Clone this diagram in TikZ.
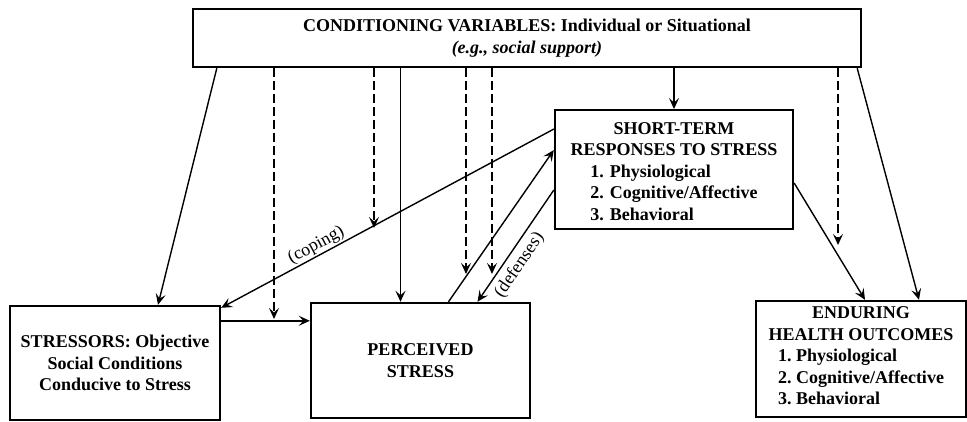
\documentclass[tikz,border=0pt]{standalone}
\usepackage{fontspec}
\setmainfont{Liberation Serif}
\usepackage{tikz}
\usetikzlibrary{arrows.meta}

\begin{document}
\begin{tikzpicture}[x=1pt, y=1pt,
    box/.style={draw, line width=2.4pt, inner sep=2pt, align=center,
        font=\fontsize{18}{21.5}\selectfont\bfseries},
    arr/.style={line width=1.4pt, -{Stealth[length=11pt, width=10pt, inset=4.5pt]}},
    dasharr/.style={arr, line width=1.6pt, dash pattern=on 9pt off 4pt},
    lbl/.style={font=\fontsize{18}{21.5}\selectfont, inner sep=1pt, sloped}]
    \useasboundingbox (0,0) rectangle (967,422);

    % Draw the boxes
    \node[box, minimum width=668pt, minimum height=58pt] (Conditioning) at (527,384)
        {CONDITIONING VARIABLES: Individual or Situational\\ \textit{(e.g., social support)}};
    \node[box, minimum width=238pt, minimum height=117pt, text height=65pt] (ShortTerm) at (674,252.5)
        {SHORT-TERM\\ RESPONSES TO STRESS\\
         \begin{tabular}[t]{@{}l@{}}1. Physiological\\ 2. Cognitive/Affective\\ 3. Behavioral\end{tabular}};
    \node[box, minimum width=210pt, minimum height=114pt] (Stressors) at (115,59)
        {STRESSORS: Objective\\ Social Conditions\\ Conducive to Stress};
    \node[box, minimum width=219pt, minimum height=115pt] (Perceived) at (420.5,61.5)
        {PERCEIVED\\ STRESS};
    \node[box, minimum width=210pt, minimum height=116pt] (Enduring) at (861,63)
        {ENDURING\\ HEALTH OUTCOMES\\
         \begin{tabular}[t]{@{}l@{}}1.\ Physiological\\ 2.\ Cognitive/Affective\\ 3.\ Behavioral\end{tabular}};

    % Define coordinates for the ends of the dashed arrows
    \coordinate (Link) at ([yshift=-16pt]Stressors.north east);
    \coordinate (M1) at (274,103);
    \coordinate (M2) at (374,194);
    \coordinate (M3) at (466,148);
    \coordinate (M4) at (492,148);
    \coordinate (M5) at (838,177);
    \coordinate (P1) at ([xshift=-20pt]Perceived.north);

    % Conditioning variables acting on the boxes
    \draw[arr] ([xshift=25pt]Conditioning.south west) -- ([xshift=43pt]Stressors.north);
    \draw[arr] (Conditioning.south -| P1) -- (P1);
    \draw[arr] (Conditioning.south -| ShortTerm.north) -- (ShortTerm.north);
    \draw[arr] ([xshift=-5pt]Conditioning.south east) -- ([xshift=58pt]Enduring.north);

    % Conditioning variables acting on the links
    \foreach \i in {1, ..., 5}
        \draw[dasharr] (Conditioning.south -| M\i) -- (M\i);

    % Links between the boxes
    \draw[arr, line width=2pt] (Link) -- (Link -| Perceived.west);
    \draw[arr] ([yshift=-20pt]ShortTerm.north west) -- ([yshift=-3pt]Stressors.north east)
        node[lbl, pos=0.7, above] {(coping)};
    \draw[arr] ([xshift=28pt]Perceived.north) -- ([yshift=-41pt]ShortTerm.north west);
    \draw[arr] ([yshift=-81pt]ShortTerm.north west) -- ([xshift=57pt]Perceived.north)
        node[lbl, pos=0.6, below=4pt] {(defenses)};
    \draw[arr] ([yshift=-74pt]ShortTerm.north east) -- ([xshift=4pt]Enduring.north);
\end{tikzpicture}
\end{document}
